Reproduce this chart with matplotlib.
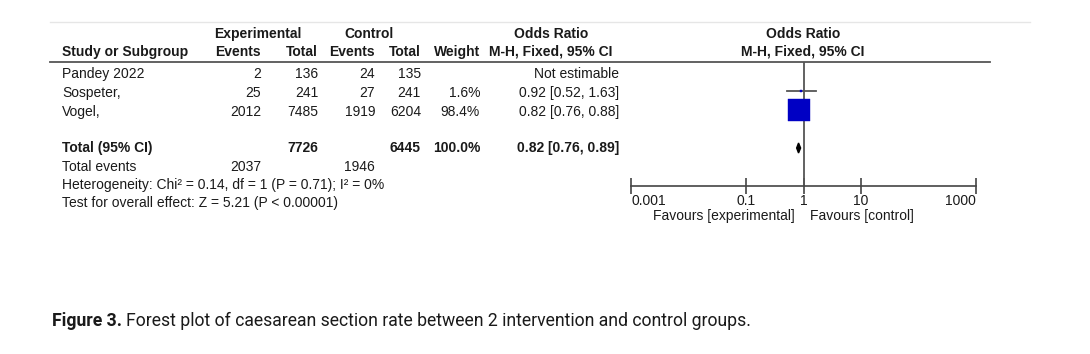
import numpy as np
import matplotlib
matplotlib.use("Agg")
import matplotlib.pyplot as plt
from matplotlib.patches import Polygon

# data
studies = ["Pandey 2022", "Sospeter,", "Vogel,"]
exp_events = [2, 25, 2012]
exp_total = [136, 241, 7485]
ctl_events = [24, 27, 1919]
ctl_total = [135, 241, 6204]
weights = [None, 1.6, 98.4]
or_est = [None, 0.92, 0.82]
or_lo = [None, 0.52, 0.76]
or_hi = [None, 1.63, 0.88]

total_exp, total_ctl = 7726, 6445
total_exp_events, total_ctl_events = 2037, 1946
pooled = (0.82, 0.76, 0.89)
heterogeneity = "Heterogeneity: Chi² = 0.14, df = 1 (P = 0.71); I² = 0%"
overall = "Test for overall effect: Z = 5.21 (P < 0.00001)"
ticks = [0.001, 0.1, 1, 10, 1000]
tick_labels = ["0.001", "0.1", "1", "10", "1000"]

W, H = 1090, 354
plt.rcParams['font.family'] = ['Liberation Sans', 'DejaVu Sans']
fig = plt.figure(figsize=(W / 100, H / 100), dpi=100)
fs = 10

# text layer in pixel coords
tx = fig.add_axes([0, 0, 1, 1])
tx.set_xlim(0, W)
tx.set_ylim(H, 0)
tx.axis("off")

row_y = [74, 93, 112]
y_total = 148
y_tev, y_het, y_test = 167, 185, 203

# column right edges
c_ee, c_et, c_ce, c_ct, c_w, c_ci = 261, 318, 375, 421, 480, 619

tx.plot([50, 1030], [22, 22], color="#e6e6e6", lw=1)
tx.plot([50, 990], [62, 62], color="#555555", lw=1.3)

hb = dict(fontsize=fs, fontweight="bold", va="center", color="#1a1a1a")
tx.text(258, 34, "Experimental", ha="center", **hb)
tx.text(369, 34, "Control", ha="center", **hb)
tx.text(551, 34, "Odds Ratio", ha="center", **hb)
tx.text(803, 34, "Odds Ratio", ha="center", **hb)
tx.text(62, 52, "Study or Subgroup", ha="left", **hb)
tx.text(c_ee, 52, "Events", ha="right", **hb)
tx.text(c_et, 52, "Total", ha="right", **hb)
tx.text(c_ce, 52, "Events", ha="right", **hb)
tx.text(c_ct, 52, "Total", ha="right", **hb)
tx.text(c_w, 52, "Weight", ha="right", **hb)
tx.text(551, 52, "M-H, Fixed, 95% CI", ha="center", **hb)
tx.text(803, 52, "M-H, Fixed, 95% CI", ha="center", **hb)

nb = dict(fontsize=fs, va="center", color="#1a1a1a")
for i, name in enumerate(studies):
    y = row_y[i]
    tx.text(62, y, name, ha="left", **nb)
    tx.text(c_ee, y, str(exp_events[i]), ha="right", **nb)
    tx.text(c_et, y, str(exp_total[i]), ha="right", **nb)
    tx.text(c_ce, y, str(ctl_events[i]), ha="right", **nb)
    tx.text(c_ct, y, str(ctl_total[i]), ha="right", **nb)
    if weights[i] is None:
        tx.text(c_ci, y, "Not estimable", ha="right", **nb)
    else:
        tx.text(c_w, y, f"{weights[i]:.1f}%", ha="right", **nb)
        tx.text(c_ci, y, f"{or_est[i]:.2f} [{or_lo[i]:.2f}, {or_hi[i]:.2f}]", ha="right", **nb)

tx.text(62, y_total, "Total (95% CI)", ha="left", **hb)
tx.text(c_et, y_total, str(total_exp), ha="right", **hb)
tx.text(c_ct, y_total, str(total_ctl), ha="right", **hb)
tx.text(c_w, y_total, "100.0%", ha="right", **hb)
tx.text(c_ci, y_total, f"{pooled[0]:.2f} [{pooled[1]:.2f}, {pooled[2]:.2f}]", ha="right", **hb)
tx.text(62, y_tev, "Total events", ha="left", **nb)
tx.text(c_ee, y_tev, str(total_exp_events), ha="right", **nb)
tx.text(c_ce, y_tev, str(total_ctl_events), ha="right", **nb)
tx.text(62, y_het, heterogeneity, ha="left", **nb)
tx.text(62, y_test, overall, ha="left", **nb)

# forest panel
x0, x1 = 631, 976
ytop, ybot = 62, 186
ax = fig.add_axes([x0 / W, (H - ybot) / H, (x1 - x0) / W, (ybot - ytop) / H])
ax.patch.set_alpha(0)
ax.set_xscale("log")
ax.set_xlim(ticks[0], ticks[-1])
ax.set_ylim(ybot, ytop)
for s in ["top", "left", "right"]:
    ax.spines[s].set_visible(False)
ax.spines["bottom"].set_color("#444444")
ax.spines["bottom"].set_linewidth(1.2)
ax.set_yticks([])
ax.set_xticks(ticks)
ax.set_xticklabels(tick_labels, fontsize=fs, color="#1a1a1a")
ax.xaxis.set_minor_locator(matplotlib.ticker.NullLocator())
ax.tick_params(axis="x", direction="inout", length=11, width=1.2, color="#444444", pad=0)
labs = ax.get_xticklabels()
labs[0].set_horizontalalignment("left")
labs[-1].set_horizontalalignment("right")
ax.axvline(1, color="#555555", lw=1.3)

blue = "#0000c4"
for i in range(len(studies)):
    if weights[i] is None:
        continue
    y = row_y[i] - 2
    ax.plot([or_lo[i], or_hi[i]], [y, y], color="#555555", lw=1.3, zorder=3)
    ms = 1.53 * np.sqrt(weights[i])
    ax.plot(or_est[i], y, marker="s", ms=ms, color=blue, mec=blue, mew=0.3, zorder=4)

dia = Polygon([[pooled[1], y_total], [pooled[0], y_total - 5],
               [pooled[2], y_total], [pooled[0], y_total + 5]],
              closed=True, color="black", zorder=4)
ax.add_patch(dia)

tx.text(795, 216, "Favours [experimental]", ha="right", **nb)
tx.text(810, 216, "Favours [control]", ha="left", **nb)

# caption
cap_b = tx.text(52, 321, "Figure 3.", ha="left", va="center", fontsize=12.7,
                fontweight="bold", family=["Roboto", "DejaVu Sans"], color="#1a1a1a")
fig.canvas.draw()
bb = cap_b.get_window_extent()
tx.text(bb.x1 + 4, 321, "Forest plot of caesarean section rate between 2 intervention and control groups.",
        ha="left", va="center", fontsize=12.7, family=["Roboto", "DejaVu Sans"], color="#1a1a1a")

fig.savefig("out.png", dpi=100)
